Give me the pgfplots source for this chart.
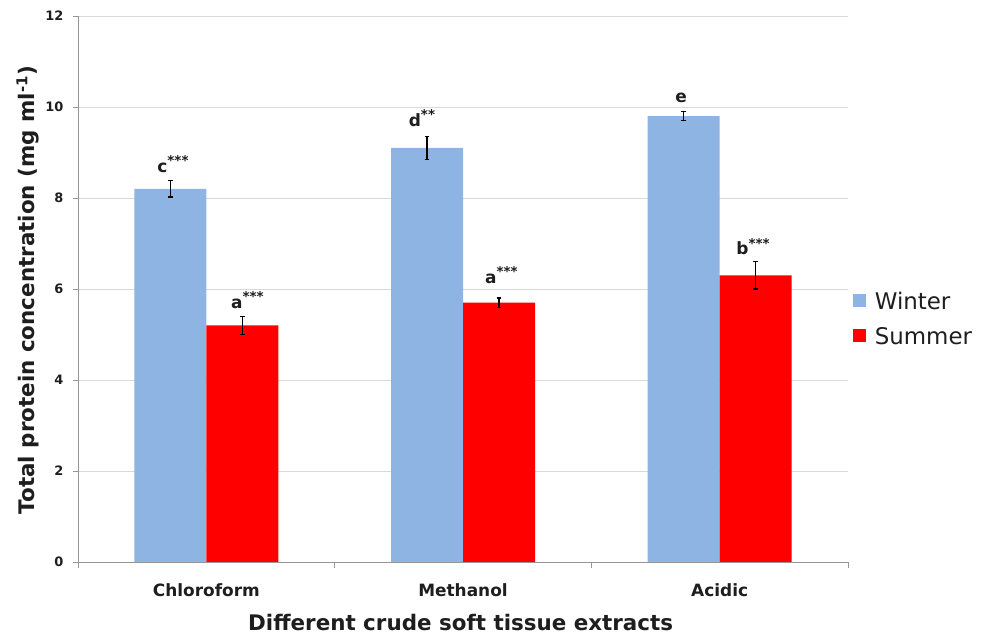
\documentclass[border=0pt]{standalone}
\usepackage{fontspec}
\setmainfont{DejaVu Sans}
\usepackage{pgfplots}
\pgfplotsset{compat=1.18}
\definecolor{winter}{RGB}{141,180,226}
\definecolor{summer}{RGB}{255,0,0}
\definecolor{gridc}{RGB}{217,217,217}
\definecolor{axc}{RGB}{150,150,150}
\definecolor{txt}{RGB}{30,30,30}
\newcommand{\stars}[1]{\raisebox{0.40em}{\fontsize{13.5}{13.5}\selectfont #1}}
\begin{document}
\begin{tikzpicture}[x=1bp,y=1bp]
\path[use as bounding box] (0,0) rectangle (984,640);
\begin{axis}[
  at={(78bp,78bp)}, anchor=south west,
  scale only axis, width=770bp, height=546bp,
  ybar=0pt, bar width=72bp,
  xmin=-0.5, xmax=2.5, ymin=0, ymax=12,
  axis x line*=bottom, axis y line*=left,
  axis line style={-, draw=axc, line width=0.8bp},
  ytick={0,2,4,6,8,10,12},
  ymajorgrids, grid style={draw=gridc, line width=0.8bp},
  ytick style={draw=axc, line width=0.8bp},
  major tick length=5bp, tick align=outside,
  xtick={0,1,2}, xticklabels={Chloroform,Methanol,Acidic},
  major x tick style={draw=none},
  extra x ticks={-0.5,0.5,1.5,2.5}, extra x tick labels={},
  extra x tick style={major x tick style={draw=axc, line width=0.8bp}, major tick length=6bp},
  /pgf/number format/assume math mode=true,
  yticklabel style={font=\bfseries\fontsize{13}{13}\selectfont, text=txt, xshift=-6bp},
  xticklabel style={font=\bfseries\fontsize{17}{17}\selectfont, text=txt, yshift=-13bp},
  xlabel={Different crude soft tissue extracts},
  ylabel={Total protein concentration (mg ml\textsuperscript{-1})},
  xlabel style={font=\bfseries\fontsize{21.5}{21.5}\selectfont, text=txt, at={(axis description cs:0.497,-0.11)}, anchor=center},
  ylabel style={font=\bfseries\fontsize{21.5}{21.5}\selectfont, text=txt, at={(axis description cs:-0.065,0.498)}, anchor=center},
  legend style={at={(rel axis cs:1.006,0.447)}, anchor=west, draw=none, fill=none,
    font=\fontsize{23}{23}\selectfont, text=txt, row sep=18bp, inner sep=0pt,
    nodes={inner sep=0pt, text depth=0pt}},
  legend cell align=left,
  legend image code/.code={\fill[#1] (0bp,-6.5bp) rectangle (13bp,6.5bp); \path (22bp,0bp);},
  error bars/y dir=both, error bars/y explicit,
  error bars/error bar style={black, line width=1.4bp},
  error bars/error mark options={rotate=90, mark size=2.2bp, line width=1.2bp, black},
]
\addplot[fill=winter, draw=none] coordinates {
  (0,8.2) +- (0,0.18)
  (1,9.1) +- (0,0.25)
  (2,9.8) +- (0,0.1)
};
\addplot[fill=summer, draw=none] coordinates {
  (0,5.2) +- (0,0.2)
  (1,5.7) +- (0,0.1)
  (2,6.3) +- (0,0.3)
};
\legend{Winter,Summer}
\begin{scope}[every node/.style={font=\bfseries\fontsize{17}{17}\selectfont, text=txt, anchor=base, inner sep=0pt}]
\node at (axis cs:-0.13,8.57) {c\stars{***}};
\node at (axis cs:0.16,5.58) {a\stars{***}};
\node at (axis cs:0.84,9.58) {d\stars{**}};
\node at (axis cs:1.15,6.13) {a\stars{***}};
\node at (axis cs:1.85,10.09) {e};
\node at (axis cs:2.13,6.75) {b\stars{***}};
\end{scope}
\end{axis}
\end{tikzpicture}
\end{document}
